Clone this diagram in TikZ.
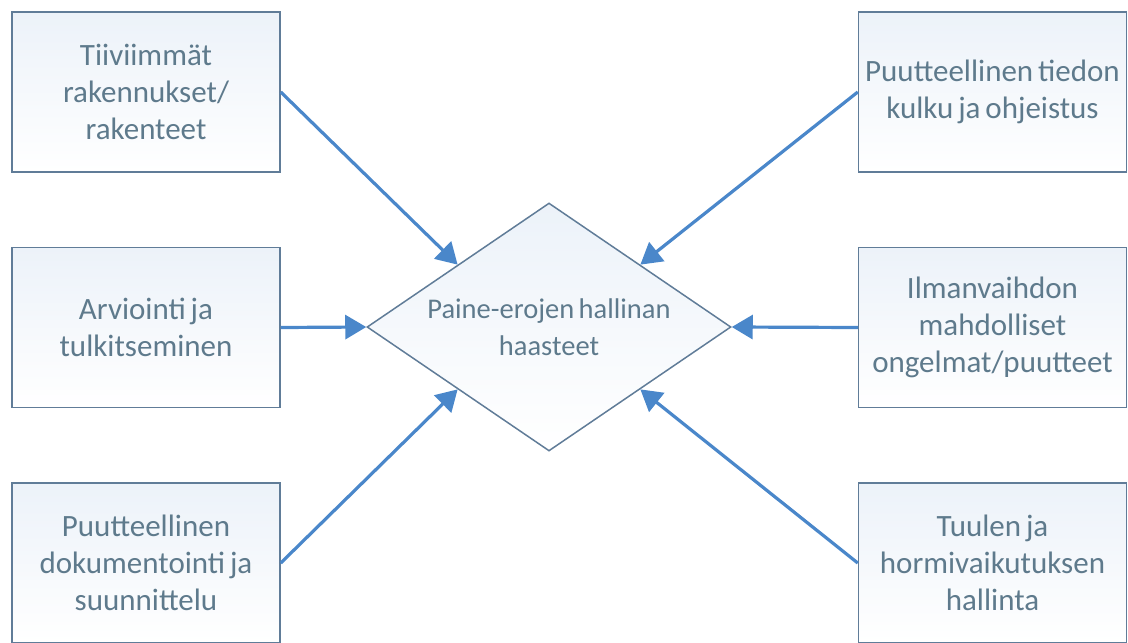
\documentclass[tikz,border=0pt]{standalone}
\usepackage{fontspec}
\setmainfont[WordSpace=0.7]{Carlito}
\usetikzlibrary{shapes.geometric,arrows.meta}
\definecolor{boxline}{RGB}{96,124,152}
\definecolor{boxtext}{RGB}{94,122,140}
\definecolor{boxtop}{RGB}{236,242,249}
\definecolor{arrowblue}{RGB}{74,135,202}

\begin{document}
\begin{tikzpicture}[x=1pt,y=-1pt,
    cause/.style={draw=boxline,line width=1.5pt,top color=boxtop,bottom color=white,
        minimum width=268pt,minimum height=160pt,inner sep=0pt,
        align=center,text=boxtext,font=\fontsize{31}{37}\selectfont},
    goal/.style={diamond,draw=boxline,line width=1.5pt,top color=boxtop,bottom color=white,
        aspect=1.47,inner sep=2pt,minimum width=364pt,minimum height=248pt,
        align=center,text=boxtext,font=\fontsize{28.5}{37}\selectfont},
    link/.style={draw=arrowblue,line width=3.2pt,-{Triangle[length=21pt,width=24pt]}}]
    \useasboundingbox (0,0) rectangle (1128,643);
    \clip (0,0) rectangle (1128,643);

    % the challenge in the middle
    \node[goal] (paine) at (549,327) {Paine-erojen hallinan\\haasteet};

    % causes, left column
    \node[cause] (tiivis) at (146,92) {Tiiviimmät\\rakennukset/\\rakenteet};
    \node[cause] (arvio) at (146,327.5) {Arviointi ja\\tulkitseminen};
    \node[cause] (dokum) at (146,563) {Puutteellinen\\dokumentointi ja\\suunnittelu};

    % causes, right column
    \node[cause] (tieto) at (992.5,92) {Puutteellinen tiedon\\kulku ja ohjeistus};
    \node[cause] (ilma) at (992.5,327.5) {Ilmanvaihdon\\mahdolliset\\ongelmat/puutteet};
    \node[cause] (tuuli) at (992.5,563) {Tuulen ja\\hormivaikutuksen\\hallinta};

    \draw[link] (tiivis.east) -- (paine.north west);
    \draw[link] (arvio.east) -- (paine.west);
    \draw[link] (dokum.east) -- (paine.south west);
    \draw[link] (tieto.west) -- (paine.north east);
    \draw[link] (ilma.west) -- (paine.east);
    \draw[link] (tuuli.west) -- (paine.south east);
\end{tikzpicture}
\end{document}
